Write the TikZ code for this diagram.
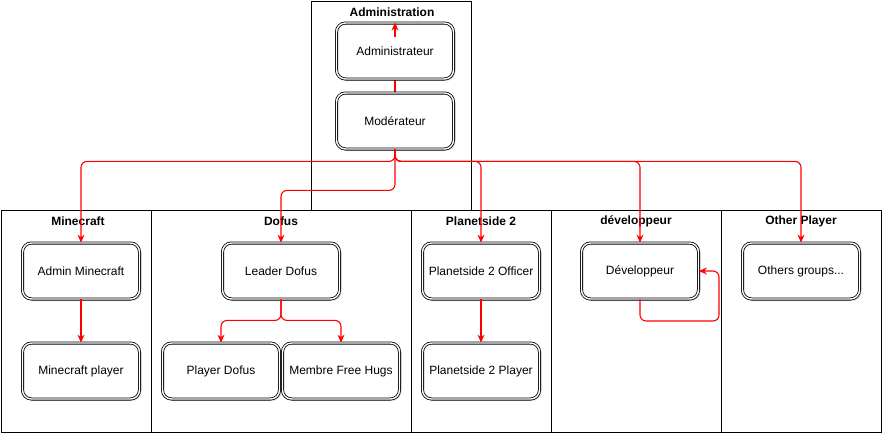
\documentclass[tikz,border=0pt]{standalone}
\usepackage{fontspec}
\setmainfont{Liberation Sans}
\usetikzlibrary{positioning, arrows.meta, shadows}
\tikzset{
  lane/.style={draw, line width=0.8pt},
  lanetitle/.style={font=\bfseries\fontsize{12}{14}\selectfont},
  role/.style={draw, double, double distance=1.4pt, line width=0.8pt, rounded corners=9pt,
    fill=white, minimum width=117pt, minimum height=56pt, font=\fontsize{12}{14}\selectfont,
    drop shadow={opacity=0.2, shadow xshift=2pt, shadow yshift=-2pt}},
  link/.style={draw=red, line width=1.1pt, rounded corners=6pt, -{Stealth[length=8pt,width=7pt]}},
}

\begin{document}
\begin{tikzpicture}[x=1pt, y=-1pt]
    \useasboundingbox (0,0) rectangle (890,440);

    % lanes
    \draw[lane] (311,1) rectangle (471,210);
    \foreach \xa/\xb in {1/151, 151/411, 411/551, 551/721, 721/881}
      \draw[lane] (\xa,210) rectangle (\xb,432);

    \node[lanetitle] (tadm) at (392,12) {Administration};
    \node[lanetitle] (tmc) at (78,221) {Minecraft};
    \node[lanetitle] (tdof) at (281,221) {Dofus};
    \node[lanetitle] (tps) at (481,221) {Planetside 2};
    \node[lanetitle] (tdev) at (636,221) {développeur};
    \node[lanetitle] (toth) at (801,221) {Other Player};

    % administration, the link first so the boxes hide it
    \coordinate (admtop) at (395,22);
    \draw[red, line width=1.1pt] (395,121) -- (admtop);
    \node[role] (adm) at (395,51) {Administrateur};
    \node[role] (mod) at (395,121) {Modérateur};
    \draw[link] ([yshift=-14pt]adm.north) -- (adm.north);

    % roles
    \node[role] (mcadm) at (81,271) {Admin Minecraft};
    \node[role] (mcpl) at (81,371) {Minecraft player};

    \node[role] (dofld) at (281,271) {Leader Dofus};
    \node[role] (dofpl) at (221,371) {Player Dofus};
    \node[role] (hugs) at (341,371) {Membre Free Hugs};

    \node[role] (psoff) at (481,271) {Planetside 2 Officer};
    \node[role] (pspl) at (481,371) {Planetside 2 Player};

    \node[role] (dev) at (640,271) {Développeur};
    \node[role] (oth) at (801,271) {Others groups...};

    % links
    \draw[link] (mod.south) -- ++(0,12) -| (mcadm.north);
    \draw[link] (mod.south) -- ++(0,41) -| (dofld.north);
    \draw[link] (mod.south) -- ++(0,12) -| (psoff.north);
    \draw[link] (mod.south) -- ++(0,12) -| (dev.north);
    \draw[link] (mod.south) -- ++(0,12) -| (oth.north);

    \draw[link] (mcadm) -- (mcpl);
    \draw[link] (dofld.south) -- ++(0,21) -| (dofpl.north);
    \draw[link] (dofld.south) -- ++(0,21) -| (hugs.north);
    \draw[link] (psoff) -- (pspl);

    \coordinate (devloop) at (719,321);
    \draw[link] (dev.south) |- (devloop) |- (dev.east);
\end{tikzpicture}
\end{document}
